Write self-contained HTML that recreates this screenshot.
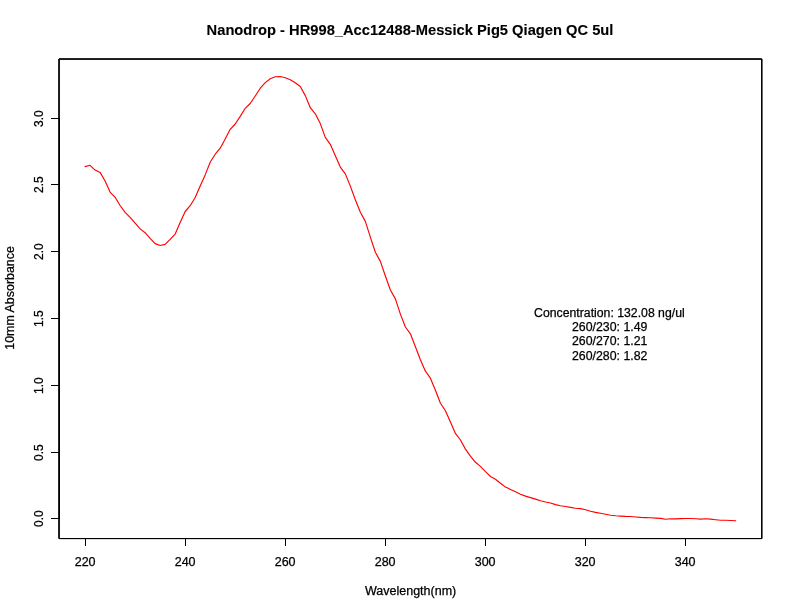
<!DOCTYPE html>
<html><head><meta charset="utf-8"><title>Nanodrop</title>
<style>
html,body{margin:0;padding:0;background:#fff;}
svg{display:block;}
text{font-family:"Liberation Sans",Arial,Helvetica,sans-serif;font-size:12px;fill:#000;stroke:#000;stroke-width:0.25px;}
.t{font-weight:bold;font-size:14.4px;stroke-width:0.1px;}
</style></head><body>
<svg width="792" height="612" viewBox="0 0 792 612">
<rect x="0" y="0" width="792" height="612" fill="#fff"/>
<polyline fill="none" stroke="#ff0000" stroke-width="1.15" stroke-linejoin="round" stroke-linecap="round" points="85.07,166.60 90.07,165.30 95.08,170.10 100.08,172.40 105.09,181.00 110.09,192.10 115.10,197.30 120.10,205.50 125.11,212.30 130.12,217.40 135.12,223.20 140.12,228.90 145.13,232.70 150.13,238.30 155.14,243.60 160.14,245.50 165.15,244.40 170.15,239.40 175.16,234.10 180.16,222.40 185.17,211.50 190.18,205.70 195.18,197.50 200.19,186.00 205.19,174.90 210.19,162.30 215.20,154.20 220.20,148.20 225.21,138.90 230.22,129.30 235.22,124.00 240.22,116.40 245.23,108.30 250.23,103.50 255.24,96.00 260.25,88.20 265.25,82.60 270.25,78.80 275.26,76.70 280.26,76.50 285.27,77.80 290.27,79.70 295.28,82.70 300.28,86.50 305.29,95.60 310.29,107.70 315.30,113.80 320.30,123.60 325.31,137.40 330.31,144.30 335.32,155.80 340.32,167.10 345.33,173.90 350.33,186.10 355.34,199.80 360.34,212.30 365.35,221.40 370.35,237.10 375.36,252.30 380.37,261.40 385.37,276.00 390.38,290.00 395.38,298.90 400.38,314.10 405.39,327.00 410.39,333.80 415.40,346.70 420.40,359.70 425.41,371.20 430.41,378.20 435.42,390.30 440.43,403.20 445.43,410.80 450.44,422.10 455.44,433.40 460.44,440.00 465.45,449.10 470.45,456.10 475.46,462.30 480.46,466.40 485.47,471.70 490.47,476.50 495.48,479.20 500.48,483.30 505.49,487.10 510.50,489.40 515.50,491.80 520.50,494.20 525.51,496.10 530.51,497.60 535.52,499.10 540.52,500.80 545.53,502.00 550.53,503.00 555.54,504.60 560.54,505.70 565.55,506.50 570.56,507.40 575.56,508.20 580.57,508.60 585.57,509.70 590.58,511.20 595.58,512.40 600.59,513.30 605.59,514.20 610.60,515.20 615.60,515.80 620.61,516.10 625.61,516.40 630.62,516.50 635.62,517.00 640.62,517.40 645.63,517.60 650.63,517.80 655.64,518.10 660.64,518.40 665.65,519.30 670.65,518.80 675.66,518.90 680.66,518.60 685.67,518.50 690.67,518.50 695.68,518.80 700.68,519.10 705.69,518.80 710.69,519.10 715.70,519.70 720.70,520.20 725.71,520.20 730.71,520.50 735.72,520.80"/>
<rect x="59.04" y="59.04" width="702.72" height="479.52" fill="none" stroke="#000" stroke-width="1" stroke-linejoin="round"/>
<rect x="59.04" y="59.04" width="702.72" height="479.52" fill="none" stroke="#000" stroke-width="1" stroke-linejoin="round"/>
<rect x="59.04" y="59.04" width="702.72" height="479.52" fill="none" stroke="#000" stroke-width="1" stroke-linejoin="round"/>
<g fill="#000" shape-rendering="crispEdges">
<rect x="85" y="538" width="601" height="1"/>
<rect x="85" y="538" width="1" height="8"/>
<rect x="185" y="538" width="1" height="8"/>
<rect x="285" y="538" width="1" height="8"/>
<rect x="385" y="538" width="1" height="8"/>
<rect x="485" y="538" width="1" height="8"/>
<rect x="585" y="538" width="1" height="8"/>
<rect x="685" y="538" width="1" height="8"/>
<rect x="59" y="118" width="1" height="401"/>
<rect x="51" y="518" width="9" height="1"/>
<rect x="51" y="452" width="9" height="1"/>
<rect x="51" y="385" width="9" height="1"/>
<rect x="51" y="318" width="9" height="1"/>
<rect x="51" y="251" width="9" height="1"/>
<rect x="51" y="184" width="9" height="1"/>
<rect x="51" y="118" width="9" height="1"/>
</g>
<text class="t" x="206.60" y="34.50" textLength="406.80" lengthAdjust="spacingAndGlyphs">Nanodrop - HR998_Acc12488-Messick Pig5 Qiagen QC 5ul</text>
<text x="364.90" y="594.50" textLength="91.40" lengthAdjust="spacingAndGlyphs">Wavelength(nm)</text>
<text transform="translate(14.10,349.70) rotate(-90)" textLength="103.60" lengthAdjust="spacingAndGlyphs">10mm Absorbance</text>
<text x="534.10" y="316.80" textLength="150.60" lengthAdjust="spacingAndGlyphs">Concentration: 132.08 ng/ul</text>
<text x="572.00" y="330.90" textLength="75.40" lengthAdjust="spacingAndGlyphs">260/230: 1.49</text>
<text x="572.00" y="345.40" textLength="75.40" lengthAdjust="spacingAndGlyphs">260/270: 1.21</text>
<text x="572.00" y="359.70" textLength="75.40" lengthAdjust="spacingAndGlyphs">260/280: 1.82</text>
<text x="74.70" y="565.80" textLength="20.90" lengthAdjust="spacingAndGlyphs">220</text>
<text x="174.70" y="565.80" textLength="20.90" lengthAdjust="spacingAndGlyphs">240</text>
<text x="274.70" y="565.80" textLength="20.90" lengthAdjust="spacingAndGlyphs">260</text>
<text x="374.70" y="565.80" textLength="20.90" lengthAdjust="spacingAndGlyphs">280</text>
<text x="474.70" y="565.80" textLength="20.90" lengthAdjust="spacingAndGlyphs">300</text>
<text x="574.70" y="565.80" textLength="20.90" lengthAdjust="spacingAndGlyphs">320</text>
<text x="674.70" y="565.80" textLength="20.90" lengthAdjust="spacingAndGlyphs">340</text>
<text transform="translate(43.20,527.00) rotate(-90)">0.0</text>
<text transform="translate(43.20,461.00) rotate(-90)">0.5</text>
<text transform="translate(43.20,394.00) rotate(-90)">1.0</text>
<text transform="translate(43.20,327.00) rotate(-90)">1.5</text>
<text transform="translate(43.20,260.00) rotate(-90)">2.0</text>
<text transform="translate(43.20,193.00) rotate(-90)">2.5</text>
<text transform="translate(43.20,127.00) rotate(-90)">3.0</text>
</svg>
</body></html>
